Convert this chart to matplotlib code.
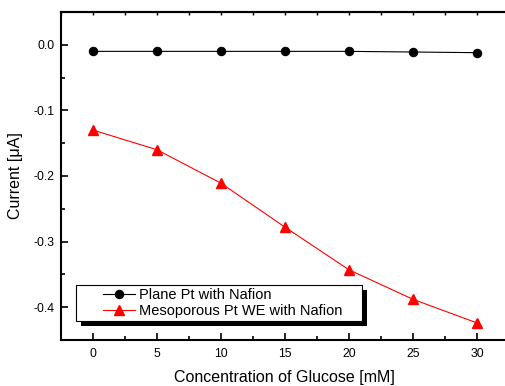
import matplotlib
matplotlib.use("Agg")
import matplotlib.pyplot as plt
from matplotlib.ticker import MultipleLocator, FormatStrFormatter, NullFormatter
from matplotlib.patches import Rectangle
from matplotlib.transforms import IdentityTransform
from matplotlib.legend_handler import HandlerLine2D

plt.rcParams['font.family'] = ['Liberation Sans', 'DejaVu Sans']

conc = [0, 5, 10, 15, 20, 25, 30]
plane_pt = [-0.010, -0.010, -0.010, -0.010, -0.010, -0.011, -0.012]
meso_pt = [-0.130, -0.160, -0.211, -0.278, -0.343, -0.388, -0.424]
labels = ["Plane Pt with Nafion", "Mesoporous Pt WE with Nafion"]


class ShiftedHandler(HandlerLine2D):
    """Line handle drawn only in the right part of the handle box."""
    def __init__(self, frac=0.43, **kw):
        super().__init__(**kw)
        self.frac = frac

    def create_artists(self, legend, orig_handle, xdescent, ydescent, width,
                       height, fontsize, trans):
        shift = self.frac * width
        return super().create_artists(legend, orig_handle, xdescent - shift,
                                      ydescent, width - shift, height,
                                      fontsize, trans)


fig = plt.figure(figsize=(5.06, 3.86), dpi=100)
ax = fig.add_axes([61/506, 46/386, 448/506, 328/386])

l1, = ax.plot(conc, plane_pt, color='black', lw=0.8, marker='o', ms=5.8, label=labels[0])
l2, = ax.plot(conc, meso_pt, color='red', lw=0.8, marker='^', ms=6.5, label=labels[1])

ax.set_xlim(-2.5, 32.5)
ax.set_ylim(-0.45, 0.05)
ax.xaxis.set_major_locator(MultipleLocator(5))
ax.xaxis.set_minor_locator(MultipleLocator(2.5))
ax.yaxis.set_major_locator(MultipleLocator(0.1))
ax.yaxis.set_minor_locator(MultipleLocator(0.05))
ax.yaxis.set_major_formatter(FormatStrFormatter('%.1f'))

ax.tick_params(which='both', direction='in', top=False, right=False, width=1.2)
ax.tick_params(which='major', length=4.7)
ax.tick_params(which='minor', length=2.8)
ax.tick_params(axis='y', which='major', pad=4.6, labelsize=8.8)
ax.tick_params(axis='x', which='major', pad=5.6, labelsize=8.8)
for s in ax.spines.values():
    s.set_linewidth(1.5)

# short ticks on the top frame
top = ax.secondary_xaxis('top')
top.xaxis.set_major_locator(MultipleLocator(2.5))
top.xaxis.set_major_formatter(NullFormatter())
top.tick_params(which='both', direction='in', length=2.2, width=1.0)
top.spines['top'].set_linewidth(1.5)

ax.set_xlabel("Concentration of Glucose [mM]", fontsize=11.5)
ax.set_ylabel("Current [\u03bcA]", fontsize=11.5)
ax.xaxis.set_label_coords((284 - 61) / 448, -30 / 328)
ax.yaxis.set_label_coords(-38 / 448, 0.5)

hm = {l1: ShiftedHandler(), l2: ShiftedHandler()}
leg = ax.legend(loc='lower left', bbox_to_anchor=(0.034, 0.058), borderaxespad=0,
                frameon=False, fontsize=10.5, handler_map=hm,
                handlelength=3.8, handletextpad=0.27, borderpad=0.2,
                labelspacing=0.12)
leg.set_zorder(7)

fig.canvas.draw()
bb = leg.get_window_extent()
extra = 17
frame = Rectangle((bb.x0, bb.y0), bb.width + extra, bb.height, transform=IdentityTransform(),
                  facecolor='white', edgecolor='black', lw=0.8, zorder=6, clip_on=False)
shadow = Rectangle((bb.x0 + 5, bb.y0 - 5), bb.width + extra, bb.height,
                   transform=IdentityTransform(), facecolor='black', edgecolor='none',
                   zorder=5.5, clip_on=False)
ax.add_artist(shadow)
ax.add_artist(frame)

fig.savefig("out.png", dpi=100)
